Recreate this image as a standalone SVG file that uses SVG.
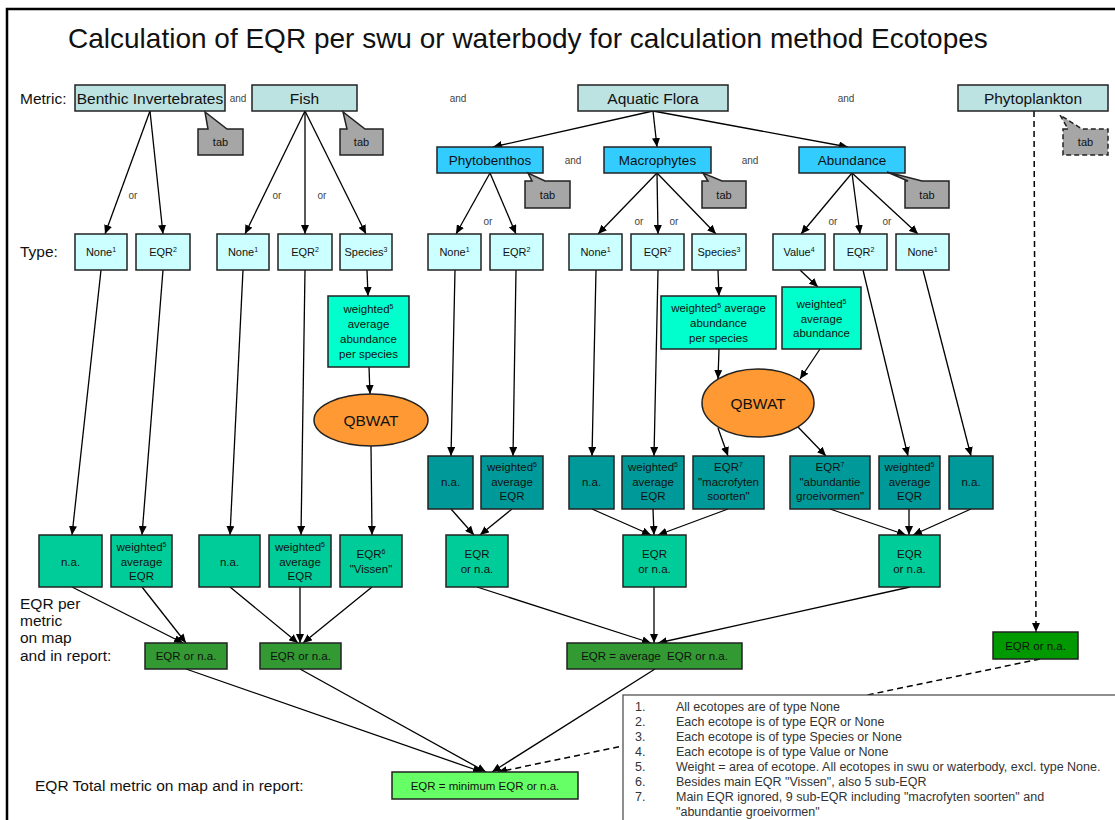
<svg xmlns="http://www.w3.org/2000/svg" width="1115" height="820" viewBox="0 0 1115 820">
<defs>
<marker id="ah" markerWidth="9" markerHeight="8" refX="9" refY="4" orient="auto" markerUnits="userSpaceOnUse"><path d="M0,0 L9,4 L0,8 z" fill="#000"/></marker>
<style>
text{font-family:"Liberation Sans",Arial,sans-serif;fill:#111}
.b{stroke:#222;stroke-width:1.5}
.m{fill:#bde2e2}
.s{fill:#33ccff}
.t{fill:#ccffff}
.a{fill:#00ffcc}
.d{fill:#009999}
.g{fill:#00cc99}
.pg{fill:#339933}
.ph{fill:#009900}
.mn{fill:#66ff66}
.q{fill:#ff9933}
.tab{fill:#a6a6a6;stroke:#222;stroke-width:1.5}
.tabd{fill:#a6a6a6;stroke:#222;stroke-width:1.5;stroke-dasharray:5,3}
.lg{font-size:15.5px;text-anchor:middle}
.md{font-size:13.5px;text-anchor:middle}
.sm{font-size:11px;text-anchor:middle}
.bx{font-size:11.5px;text-anchor:middle}
.lab{font-size:15.5px}
.conj{font-size:10px;fill:#444;text-anchor:middle}
.tt{font-size:11px;text-anchor:middle}
.sup{font-size:7px}
.c{stroke:#000;stroke-width:1.3;fill:none;marker-end:url(#ah)}
.cd{stroke:#000;stroke-width:1.5;fill:none;stroke-dasharray:6,4;marker-end:url(#ah)}
.leg{font-size:12.5px;fill:#333}
</style>
</defs>
<rect x="0" y="0" width="1115" height="820" fill="#fff"/>
<path d="M7,820 L7,9 L1115,9" stroke="#000" stroke-width="2.5" fill="none"/>
<text x="68" y="48" font-size="28" fill="#111">Calculation of EQR per swu or waterbody for calculation method Ecotopes</text>

<g id="labels">
<text class="lab" x="20" y="104">Metric:</text>
<text class="lab" x="20" y="257">Type:</text>
<text class="lab" x="20" y="609">EQR per</text>
<text class="lab" x="20" y="626">metric</text>
<text class="lab" x="20" y="643">on map</text>
<text class="lab" x="20" y="661">and in report:</text>
<text class="lab" x="35" y="791" font-size="16">EQR Total metric on map and in report:</text>
<text class="conj" x="238" y="102">and</text>
<text class="conj" x="458" y="102">and</text>
<text class="conj" x="846" y="102">and</text>
<text class="conj" x="573" y="164">and</text>
<text class="conj" x="750" y="164">and</text>
<text class="conj" x="133" y="199">or</text>
<text class="conj" x="277" y="199">or</text>
<text class="conj" x="322" y="199">or</text>
<text class="conj" x="488" y="225">or</text>
<text class="conj" x="639" y="225">or</text>
<text class="conj" x="674" y="225">or</text>
<text class="conj" x="833" y="225">or</text>
<text class="conj" x="887" y="225">or</text>
</g>

<g id="connectors">
<line class="c" x1="150" y1="111" x2="105" y2="234"/>
<line class="c" x1="150" y1="111" x2="163" y2="234"/>
<line class="c" x1="305" y1="111" x2="245" y2="234"/>
<line class="c" x1="305" y1="111" x2="305" y2="234"/>
<line class="c" x1="305" y1="111" x2="366" y2="234"/>
<line class="c" x1="653" y1="111" x2="493" y2="147"/>
<line class="c" x1="653" y1="111" x2="657" y2="147"/>
<line class="c" x1="653" y1="111" x2="848" y2="147"/>
<line class="c" x1="490" y1="173" x2="456" y2="234"/>
<line class="c" x1="490" y1="173" x2="516" y2="234"/>
<line class="c" x1="657" y1="173" x2="598" y2="234"/>
<line class="c" x1="657" y1="173" x2="658" y2="234"/>
<line class="c" x1="657" y1="173" x2="716" y2="234"/>
<line class="c" x1="852" y1="173" x2="801" y2="234"/>
<line class="c" x1="852" y1="173" x2="860" y2="234"/>
<line class="c" x1="852" y1="173" x2="918" y2="234"/>
<line class="c" x1="101" y1="270" x2="72" y2="535"/>
<line class="c" x1="163" y1="270" x2="142" y2="535"/>
<line class="c" x1="243" y1="270" x2="230" y2="535"/>
<line class="c" x1="305" y1="270" x2="301" y2="535"/>
<line class="c" x1="367" y1="270" x2="368" y2="296"/>
<line class="c" x1="369" y1="367" x2="370" y2="394"/>
<line class="c" x1="371" y1="446" x2="372" y2="535"/>
<line class="c" x1="455" y1="270" x2="451" y2="456"/>
<line class="c" x1="516" y1="270" x2="513" y2="456"/>
<line class="c" x1="596" y1="270" x2="592" y2="456"/>
<line class="c" x1="658" y1="270" x2="654" y2="456"/>
<line class="c" x1="718" y1="270" x2="719" y2="296"/>
<line class="c" x1="800" y1="270" x2="818" y2="287"/>
<line class="c" x1="719" y1="349" x2="718" y2="379"/>
<line class="c" x1="820" y1="349" x2="800" y2="379"/>
<line class="c" x1="718" y1="428" x2="728" y2="456"/>
<line class="c" x1="798" y1="427" x2="826" y2="456"/>
<line class="c" x1="863" y1="270" x2="908" y2="456"/>
<line class="c" x1="923" y1="270" x2="971" y2="456"/>
<line class="c" x1="451" y1="509" x2="474" y2="535"/>
<line class="c" x1="512" y1="509" x2="480" y2="535"/>
<line class="c" x1="592" y1="509" x2="651" y2="535"/>
<line class="c" x1="653" y1="509" x2="654" y2="535"/>
<line class="c" x1="728" y1="509" x2="658" y2="535"/>
<line class="c" x1="830" y1="509" x2="906" y2="535"/>
<line class="c" x1="909" y1="509" x2="909" y2="535"/>
<line class="c" x1="971" y1="509" x2="913" y2="535"/>
<line class="c" x1="72" y1="587" x2="183" y2="643"/>
<line class="c" x1="142" y1="587" x2="186" y2="643"/>
<line class="c" x1="230" y1="587" x2="298" y2="643"/>
<line class="c" x1="300" y1="587" x2="300" y2="643"/>
<line class="c" x1="372" y1="587" x2="303" y2="643"/>
<line class="c" x1="477" y1="587" x2="651" y2="643"/>
<line class="c" x1="654" y1="587" x2="654" y2="643"/>
<line class="c" x1="910" y1="587" x2="658" y2="643"/>
<line class="c" x1="186" y1="669" x2="482" y2="772"/>
<line class="c" x1="300" y1="669" x2="486" y2="772"/>
<line class="c" x1="655" y1="669" x2="492" y2="772"/>
<line class="cd" x1="1040" y1="659" x2="498" y2="772"/>
<line class="cd" x1="1034" y1="111" x2="1036" y2="632"/>
</g>

<g id="n-benthic"><rect class="b m" x="75" y="85" width="150" height="26"/><text class="lg" x="150" y="103.5">Benthic Invertebrates</text></g>
<g id="n-fish"><rect class="b m" x="252" y="85" width="105" height="26"/><text class="lg" x="304.5" y="103.5">Fish</text></g>
<g id="n-flora"><rect class="b m" x="578" y="85" width="150" height="26"/><text class="lg" x="653" y="103.5">Aquatic Flora</text></g>
<g id="n-phytoplankton"><rect class="b m" x="958" y="85" width="150" height="26"/><text class="lg" x="1033" y="103.5">Phytoplankton</text></g>

<g id="tab-benthic"><path class="tab" d="M198,129 L208,129 L205,112 L227,129 L243,129 L243,155 L198,155 Z"/><text class="tt" x="220.5" y="146">tab</text></g>
<g id="tab-fish"><path class="tab" d="M340,129 L347,129 L343,112 L365,129 L383,129 L383,155 L340,155 Z"/><text class="tt" x="361.5" y="146">tab</text></g>
<g id="tab-phytoplankton"><path class="tabd" d="M1063,129 L1068,129 L1060,115 L1082,129 L1108,129 L1108,155 L1063,155 Z"/><text class="tt" x="1085.5" y="146">tab</text></g>

<g id="n-phytobenthos"><rect class="b s" x="437" y="147" width="106" height="26"/><text class="md" x="490" y="165">Phytobenthos</text></g>
<g id="n-macrophytes"><rect class="b s" x="604" y="147" width="107" height="26"/><text class="md" x="657.5" y="165">Macrophytes</text></g>
<g id="n-abundance"><rect class="b s" x="799" y="147" width="106" height="26"/><text class="md" x="852" y="165">Abundance</text></g>

<g id="tab-phytobenthos"><path class="tab" d="M525,181 L532,181 L528,173 L545,181 L570,181 L570,208 L525,208 Z"/><text class="tt" x="547.5" y="199">tab</text></g>
<g id="tab-macrophytes"><path class="tab" d="M702,181 L708,181 L703,173 L722,181 L746,181 L746,208 L702,208 Z"/><text class="tt" x="724" y="199">tab</text></g>
<g id="tab-abundance"><path class="tab" d="M905,181 L908,181 L887,172 L922,181 L949,181 L949,208 L905,208 Z"/><text class="tt" x="927" y="199">tab</text></g>

<g id="t-b-none"><rect class="b t" x="75" y="234" width="52" height="36"/><text class="sm" x="101" y="256">None<tspan class="sup" dy="-4">1</tspan></text></g>
<g id="t-b-eqr"><rect class="b t" x="136" y="234" width="54" height="36"/><text class="sm" x="163" y="256">EQR<tspan class="sup" dy="-4">2</tspan></text></g>
<g id="t-f-none"><rect class="b t" x="217" y="234" width="52" height="36"/><text class="sm" x="243" y="256">None<tspan class="sup" dy="-4">1</tspan></text></g>
<g id="t-f-eqr"><rect class="b t" x="278" y="234" width="54" height="36"/><text class="sm" x="305" y="256">EQR<tspan class="sup" dy="-4">2</tspan></text></g>
<g id="t-f-species"><rect class="b t" x="340" y="234" width="52" height="36"/><text class="sm" x="366" y="256">Species<tspan class="sup" dy="-4">3</tspan></text></g>
<g id="t-p-none"><rect class="b t" x="428" y="234" width="53" height="36"/><text class="sm" x="454.5" y="256">None<tspan class="sup" dy="-4">1</tspan></text></g>
<g id="t-p-eqr"><rect class="b t" x="490" y="234" width="53" height="36"/><text class="sm" x="516.5" y="256">EQR<tspan class="sup" dy="-4">2</tspan></text></g>
<g id="t-m-none"><rect class="b t" x="569" y="234" width="53" height="36"/><text class="sm" x="595.5" y="256">None<tspan class="sup" dy="-4">1</tspan></text></g>
<g id="t-m-eqr"><rect class="b t" x="631" y="234" width="53" height="36"/><text class="sm" x="657.5" y="256">EQR<tspan class="sup" dy="-4">2</tspan></text></g>
<g id="t-m-species"><rect class="b t" x="692" y="234" width="54" height="36"/><text class="sm" x="719" y="256">Species<tspan class="sup" dy="-4">3</tspan></text></g>
<g id="t-a-value"><rect class="b t" x="773" y="234" width="52" height="36"/><text class="sm" x="799" y="256">Value<tspan class="sup" dy="-4">4</tspan></text></g>
<g id="t-a-eqr"><rect class="b t" x="834" y="234" width="53" height="36"/><text class="sm" x="860.5" y="256">EQR<tspan class="sup" dy="-4">2</tspan></text></g>
<g id="t-a-none"><rect class="b t" x="896" y="234" width="53" height="36"/><text class="sm" x="922.5" y="256">None<tspan class="sup" dy="-4">1</tspan></text></g>

<g id="f-wap"><rect class="b a" x="328" y="296" width="81" height="71"/>
<text class="bx" x="368.5" y="313">weighted<tspan class="sup" dy="-4">5</tspan></text>
<text class="bx" x="368.5" y="328">average</text>
<text class="bx" x="368.5" y="343">abundance</text>
<text class="bx" x="368.5" y="358">per species</text></g>
<g id="m-wap"><rect class="b a" x="661" y="296" width="115" height="53"/>
<text class="bx" x="718.5" y="312">weighted<tspan class="sup" dy="-4">5</tspan><tspan dy="4"> average</tspan></text>
<text class="bx" x="718.5" y="327">abundance</text>
<text class="bx" x="718.5" y="342">per species</text></g>
<g id="a-wa"><rect class="b a" x="782" y="287" width="79" height="62"/>
<text class="bx" x="821.5" y="308">weighted<tspan class="sup" dy="-4">5</tspan></text>
<text class="bx" x="821.5" y="323">average</text>
<text class="bx" x="821.5" y="337">abundance</text></g>

<g id="f-qbwat"><ellipse class="b q" cx="371" cy="420" rx="57" ry="26"/><text x="371" y="425.5" font-size="15.5" text-anchor="middle">QBWAT</text></g>
<g id="m-qbwat"><ellipse class="b q" cx="758" cy="403" rx="56" ry="34"/><text x="758" y="408.5" font-size="15.5" text-anchor="middle">QBWAT</text></g>

<g id="p-na"><rect class="b d" x="428" y="456" width="45" height="53"/><text class="bx" x="450.5" y="486">n.a.</text></g>
<g id="p-wae"><rect class="b d" x="481" y="456" width="62" height="53"/>
<text class="bx" x="512" y="471">weighted<tspan class="sup" dy="-4">5</tspan></text>
<text class="bx" x="512" y="486">average</text>
<text class="bx" x="512" y="500">EQR</text></g>
<g id="m-na"><rect class="b d" x="569" y="456" width="45" height="53"/><text class="bx" x="591.5" y="486">n.a.</text></g>
<g id="m-wae"><rect class="b d" x="622" y="456" width="62" height="53"/>
<text class="bx" x="653" y="471">weighted<tspan class="sup" dy="-4">5</tspan></text>
<text class="bx" x="653" y="486">average</text>
<text class="bx" x="653" y="500">EQR</text></g>
<g id="m-eqr7"><rect class="b d" x="693" y="456" width="71" height="53"/>
<text class="bx" x="728.5" y="471">EQR<tspan class="sup" dy="-4">7</tspan></text>
<text class="bx" x="728.5" y="486">"macrofyten</text>
<text class="bx" x="728.5" y="500">soorten"</text></g>
<g id="a-eqr7"><rect class="b d" x="790" y="456" width="80" height="53"/>
<text class="bx" x="830" y="471">EQR<tspan class="sup" dy="-4">7</tspan></text>
<text class="bx" x="830" y="486">"abundantie</text>
<text class="bx" x="830" y="500">groeivormen"</text></g>
<g id="a-wae"><rect class="b d" x="879" y="456" width="61" height="53"/>
<text class="bx" x="909.5" y="471">weighted<tspan class="sup" dy="-4">5</tspan></text>
<text class="bx" x="909.5" y="486">average</text>
<text class="bx" x="909.5" y="500">EQR</text></g>
<g id="a-na"><rect class="b d" x="949" y="456" width="44" height="53"/><text class="bx" x="971" y="486">n.a.</text></g>

<g id="b-na"><rect class="b g" x="39" y="535" width="63" height="52"/><text class="bx" x="70.5" y="566">n.a.</text></g>
<g id="b-wae"><rect class="b g" x="111" y="535" width="61" height="52"/>
<text class="bx" x="141.5" y="551">weighted<tspan class="sup" dy="-4">5</tspan></text>
<text class="bx" x="141.5" y="566">average</text>
<text class="bx" x="141.5" y="580">EQR</text></g>
<g id="f-na"><rect class="b g" x="199" y="535" width="61" height="52"/><text class="bx" x="229.5" y="566">n.a.</text></g>
<g id="f-wae"><rect class="b g" x="269" y="535" width="62" height="52"/>
<text class="bx" x="300" y="551">weighted<tspan class="sup" dy="-4">5</tspan></text>
<text class="bx" x="300" y="566">average</text>
<text class="bx" x="300" y="580">EQR</text></g>
<g id="f-eqr6"><rect class="b g" x="340" y="535" width="62" height="52"/>
<text class="bx" x="371" y="558">EQR<tspan class="sup" dy="-4">6</tspan></text>
<text class="bx" x="371" y="573">"Vissen"</text></g>
<g id="p-eqr"><rect class="b g" x="446" y="535" width="62" height="52"/>
<text class="bx" x="477" y="558">EQR</text><text class="bx" x="477" y="573">or n.a.</text></g>
<g id="m-eqr"><rect class="b g" x="623" y="535" width="63" height="52"/>
<text class="bx" x="654.5" y="558">EQR</text><text class="bx" x="654.5" y="573">or n.a.</text></g>
<g id="a-eqr"><rect class="b g" x="879" y="535" width="61" height="52"/>
<text class="bx" x="909.5" y="558">EQR</text><text class="bx" x="909.5" y="573">or n.a.</text></g>

<g id="r-benthic"><rect class="b pg" x="145" y="643" width="82" height="26"/><text class="bx" x="186" y="660">EQR or n.a.</text></g>
<g id="r-fish"><rect class="b pg" x="260" y="643" width="81" height="26"/><text class="bx" x="300.5" y="660">EQR or n.a.</text></g>
<g id="r-flora"><rect class="b pg" x="567" y="643" width="175" height="26"/><text class="bx" x="654.5" y="660" xml:space="preserve">EQR = average  EQR or n.a.</text></g>
<g id="r-phyto"><rect class="b ph" x="993" y="632" width="85" height="27"/><text class="bx" x="1035.5" y="650">EQR or n.a.</text></g>

<g id="legend">
<rect x="623" y="695" width="500" height="140" fill="#fff" stroke="#444" stroke-width="1.2"/>
<text class="leg" x="635" y="711">1.</text><text class="leg" x="676" y="711">All ecotopes are of type None</text>
<text class="leg" x="635" y="726">2.</text><text class="leg" x="676" y="726">Each ecotope is of type EQR or None</text>
<text class="leg" x="635" y="741">3.</text><text class="leg" x="676" y="741">Each ecotope is of type Species or None</text>
<text class="leg" x="635" y="756">4.</text><text class="leg" x="676" y="756">Each ecotope is of type Value or None</text>
<text class="leg" x="635" y="771">5.</text><text class="leg" x="676" y="771">Weight = area of ecotope. All ecotopes in swu or waterbody, excl. type None.</text>
<text class="leg" x="635" y="786">6.</text><text class="leg" x="676" y="786">Besides main EQR "Vissen", also 5 sub-EQR</text>
<text class="leg" x="635" y="801">7.</text><text class="leg" x="676" y="801">Main EQR ignored, 9 sub-EQR including "macrofyten soorten" and</text>
<text class="leg" x="676" y="816">"abundantie groeivormen"</text>
</g>

<g id="n-total"><rect class="b mn" x="392" y="772" width="186" height="27"/><text class="bx" x="485" y="790">EQR = minimum EQR or n.a.</text></g>
</svg>
